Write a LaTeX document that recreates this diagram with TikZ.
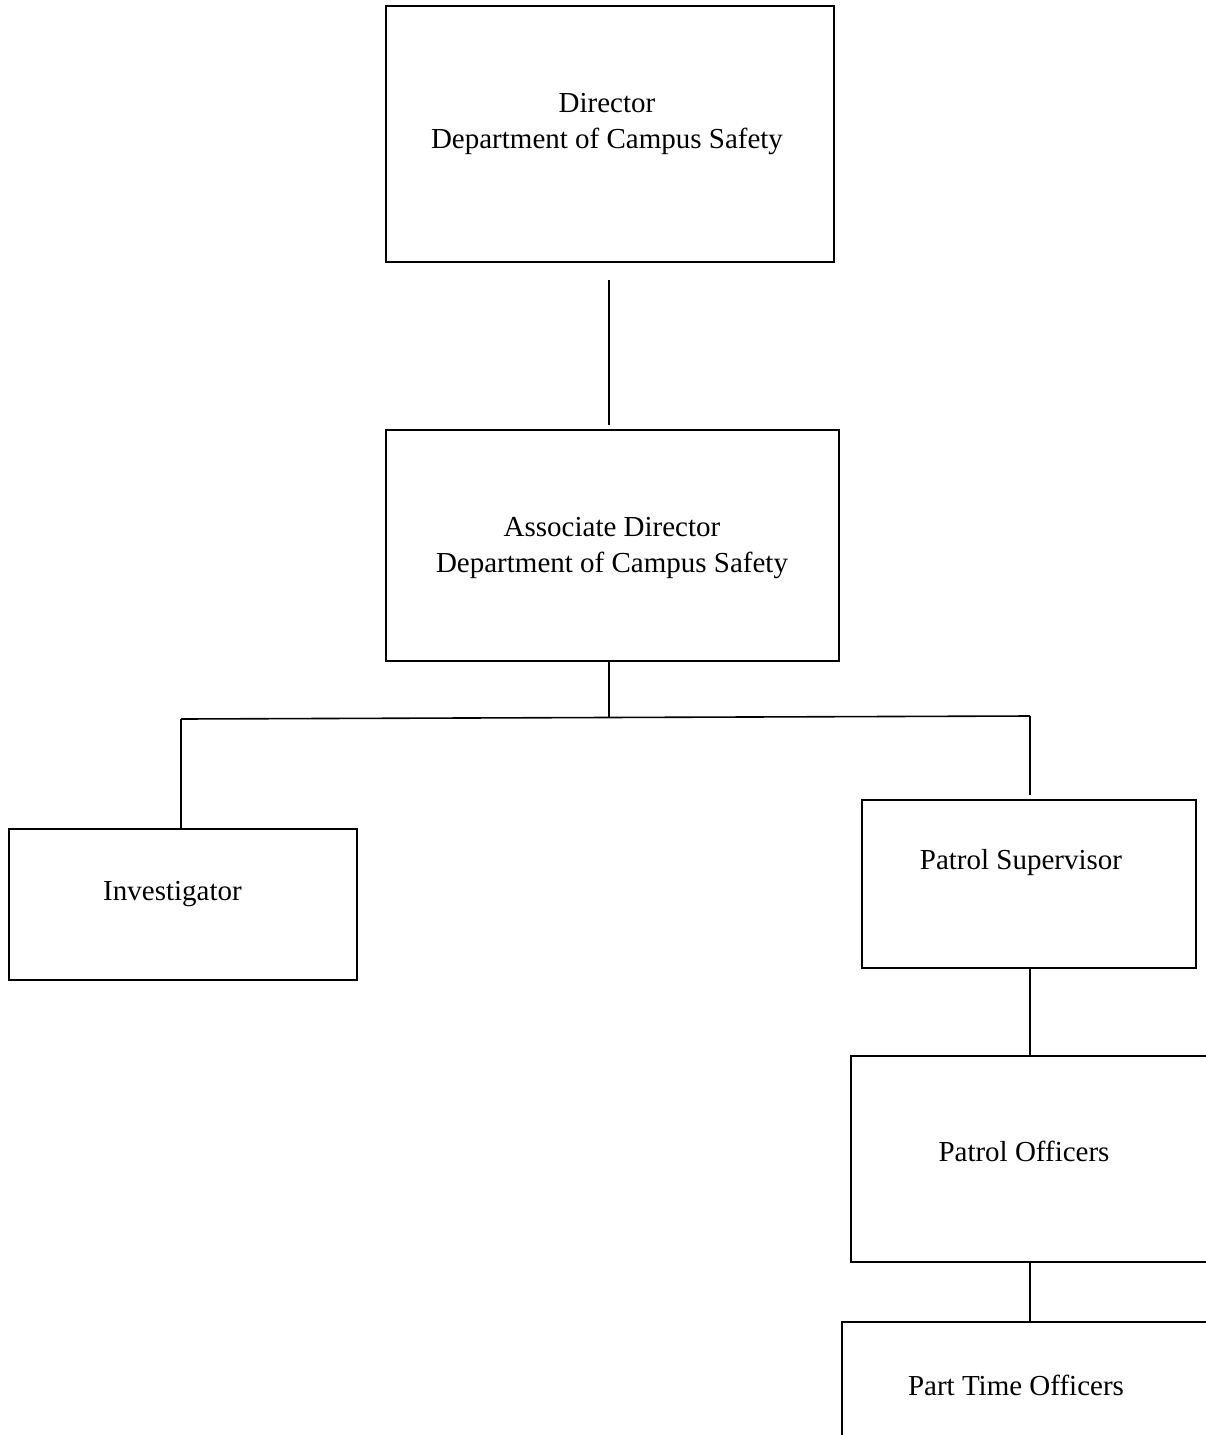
\documentclass[tikz,border=0pt]{standalone}
\usepackage{fontspec}
\setmainfont{Liberation Serif}
\tikzset{
  orgbox/.style={draw, line width=1.6pt, rectangle, inner sep=0pt},
  orgtext/.style={font=\fontsize{29}{36}\selectfont, align=center, inner sep=0pt, anchor=base},
}
\begin{document}
\begin{tikzpicture}[x=1pt,y=-1pt]
  \clip (0,0) rectangle (1206,1435);
  \fill[white] (0,0) rectangle (1206,1435);
  \draw
    (610,134) node[orgbox, minimum width=448pt, minimum height=256pt] (director){}
    (612.5,545.5) node[orgbox, minimum width=453pt, minimum height=231pt] (assoc){}
    (183,904.5) node[orgbox, minimum width=348pt, minimum height=151pt] (invest){}
    (1029,884) node[orgbox, minimum width=334pt, minimum height=168pt] (super){}
    (1033,1159) node[orgbox, minimum width=364pt, minimum height=206pt] (patrol){}
    (1030,1384) node[orgbox, minimum width=376pt, minimum height=124pt] (parttime){};
  \draw
    (607,148) node[orgtext] (director-text){Director\\Department of Campus Safety}
    (612,572) node[orgtext] (assoc-text){Associate Director\\Department of Campus Safety}
    (172.5,900) node[orgtext] (invest-text){Investigator}
    (1021,869) node[orgtext] (super-text){Patrol Supervisor}
    (1024,1161) node[orgtext] (patrol-text){Patrol Officers}
    (1016,1395) node[orgtext] (parttime-text){Part Time Officers};
  \coordinate (upper-top) at (609,280);
  \coordinate (upper-bottom) at (609,425);
  \coordinate (split) at (609,717.5);
  \coordinate (left-end) at (181,719);
  \coordinate (right-end) at (1030,716);
  \coordinate (right-drop) at (1030,795);
  \begin{scope}[line width=1.6pt]
    \draw (upper-top) to (upper-bottom);
    \draw (assoc.south -| split) to (split);
    \draw (left-end) to (right-end);
    \draw (left-end) to (invest.north -| left-end);
    \draw (right-end) to (right-drop);
    \draw (super.south -| right-end) to (patrol.north -| right-end);
    \draw (patrol.south -| right-end) to (parttime.north -| right-end);
  \end{scope}
\end{tikzpicture}
\end{document}
